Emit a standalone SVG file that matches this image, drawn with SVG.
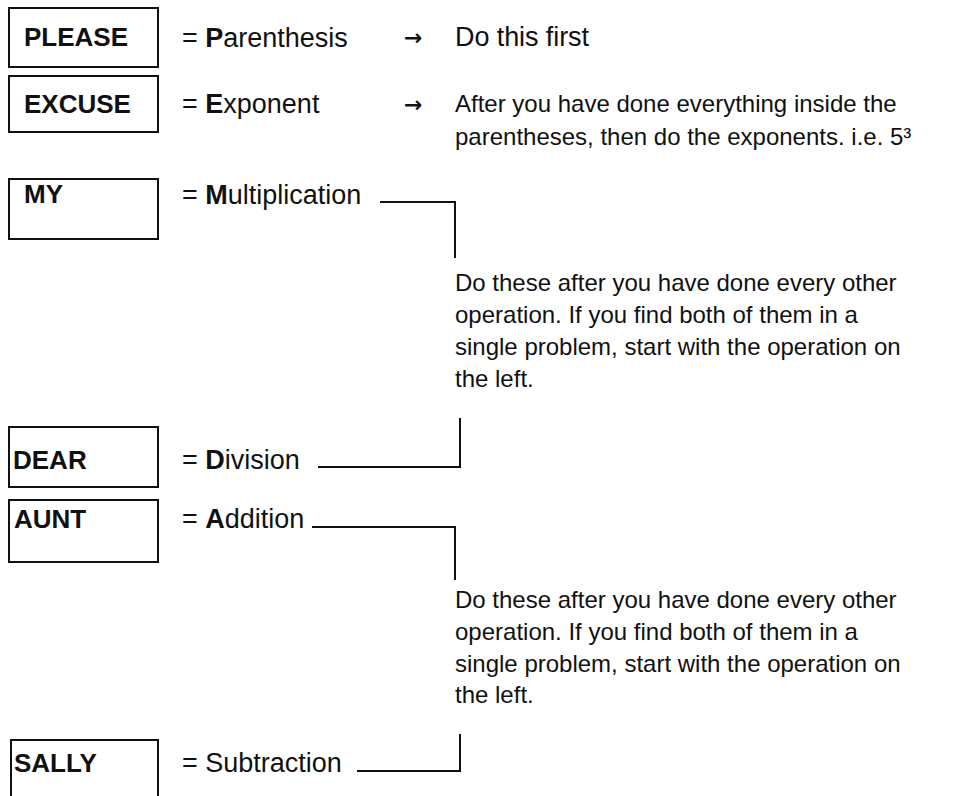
<svg xmlns="http://www.w3.org/2000/svg" width="966" height="796" viewBox="0 0 966 796">
<style>
  .box{fill:#fff;stroke:#111;stroke-width:2}
  .bt{font-family:"Liberation Sans",Arial,sans-serif;font-size:26px;font-weight:bold;fill:#111}
  .lb{font-family:"Liberation Sans",Arial,sans-serif;font-size:27px;fill:#111}
  .t{font-family:"Liberation Sans",Arial,sans-serif;font-size:24px;fill:#111}
  .b{font-weight:bold}
  .ar{font-family:"DejaVu Sans",sans-serif;font-size:22px;font-weight:bold;fill:#111}
  .ln{fill:none;stroke:#111;stroke-width:2}
</style>
<rect width="966" height="796" fill="#fff"/>
<g id="please">
  <rect class="box" x="9" y="8" width="149" height="59"/>
  <text class="bt" x="24" y="46">PLEASE</text>
  <text class="lb" x="182" y="47">= <tspan class="b">P</tspan>arenthesis</text>
  <text class="ar" x="404" y="45">→</text>
  <text class="lb" x="455" y="46" textLength="134">Do this first</text>
</g>
<g id="excuse">
  <rect class="box" x="9" y="76" width="149" height="56"/>
  <text class="bt" x="24" y="113">EXCUSE</text>
  <text class="lb" x="182" y="113">= <tspan class="b">E</tspan>xponent</text>
  <text class="ar" x="404" y="112">→</text>
  <text class="t" x="455" y="112">After you have done everything inside the</text>
  <text class="t" x="455" y="145">parentheses, then do the exponents. i.e. 5³</text>
</g>
<g id="my">
  <rect class="box" x="9" y="179" width="149" height="60"/>
  <text class="bt" x="24" y="203">MY</text>
  <text class="lb" x="182" y="204">= <tspan class="b">M</tspan>ultiplication</text>
</g>
<g id="note1">
  <text class="t" x="455" y="291">Do these after you have done every other</text>
  <text class="t" x="455" y="323">operation. If you find both of them in a</text>
  <text class="t" x="455" y="355">single problem, start with the operation on</text>
  <text class="t" x="455" y="387">the left.</text>
</g>
<g id="dear">
  <rect class="box" x="9" y="427" width="149" height="60"/>
  <text class="bt" x="13" y="469">DEAR</text>
  <text class="lb" x="182" y="469">= <tspan class="b">D</tspan>ivision</text>
</g>
<g id="aunt">
  <rect class="box" x="9" y="500" width="149" height="62"/>
  <text class="bt" x="14" y="528">AUNT</text>
  <text class="lb" x="182" y="528">= <tspan class="b">A</tspan>ddition</text>
</g>
<g id="note2">
  <text class="t" x="455" y="608">Do these after you have done every other</text>
  <text class="t" x="455" y="640">operation. If you find both of them in a</text>
  <text class="t" x="455" y="672">single problem, start with the operation on</text>
  <text class="t" x="455" y="703">the left.</text>
</g>
<g id="sally">
  <rect class="box" x="11" y="740" width="147" height="70"/>
  <text class="bt" x="14" y="772">SALLY</text>
  <text class="lb" x="182" y="772">= Subtraction</text>
</g>
<g id="connectors">
  <polyline class="ln" points="380,202 455,202 455,258"/>
  <polyline class="ln" points="318,467 460,467 460,418"/>
  <polyline class="ln" points="312,527 455,527 455,580"/>
  <polyline class="ln" points="357,771 460,771 460,734"/>
</g>
</svg>
